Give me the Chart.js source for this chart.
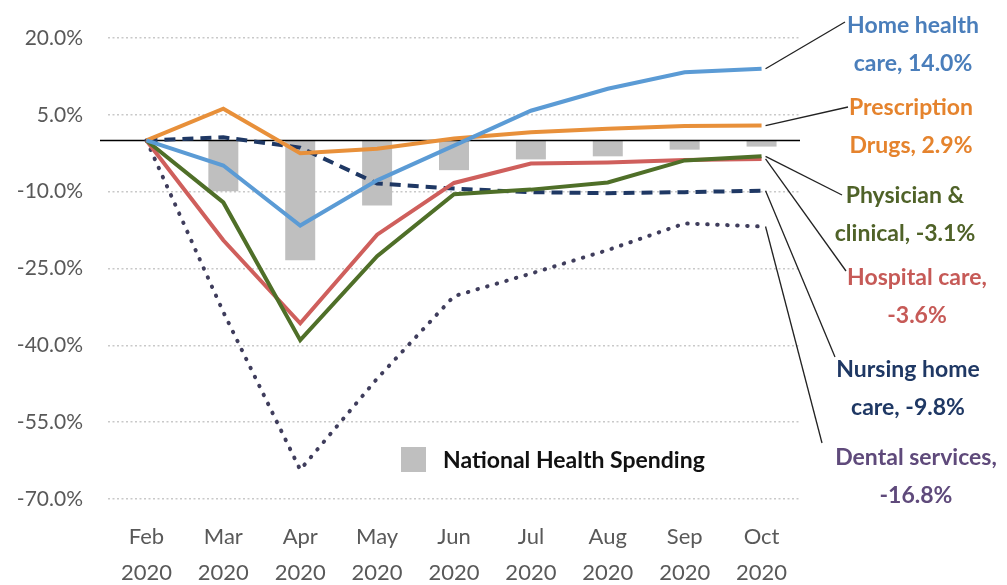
<!DOCTYPE html>
<html>
<head>
<meta charset="utf-8">
<script src="https://cdn.jsdelivr.net/npm/chart.js@4/dist/chart.umd.min.js"></script>
<style>
  html, body { margin: 0; padding: 0; background: #fff; }
  #wrap { width: 1007px; height: 585px; position: relative; }
</style>
</head>
<body>
<div id="wrap"><canvas id="chart"></canvas></div>
<script>
// ─── Data ─────────────────────────────────────────────────────────────────────
const months = ["Feb", "Mar", "Apr", "May", "Jun", "Jul", "Aug", "Sep", "Oct"];
const year   = "2020";
const yTicks = [20, 5, -10, -25, -40, -55, -70];

const nationalHealth = [0, -9.9, -23.4, -12.7, -5.8, -3.7, -3.1, -1.8, -1.2];
const homeHealth     = [0, -4.9, -16.6, -7.8, -1.0, 5.8, 10.1, 13.3, 14.0];
const prescription   = [0, 6.2, -2.5, -1.6, 0.4, 1.6, 2.3, 2.8, 2.9];
const physician      = [0, -12.1, -39.0, -22.6, -10.5, -9.6, -8.2, -3.9, -3.1];
const hospital       = [0, -19.5, -35.7, -18.4, -8.3, -4.5, -4.3, -3.8, -3.6];
const nursingHome    = [0, 0.6, -1.4, -8.4, -9.4, -10.1, -10.3, -10.1, -9.8];
const dental         = [0, -33.5, -64.3, -46.5, -30.4, -26.0, -21.4, -16.2, -16.8];

// end-of-line callouts (text only; anchor comes from the last data point)
const callouts = [
  { ds: 1, lines: ["Home health", "care, 14.0%"],      color: "#4a7ebb", cx: 913, base: 33,  end: [845, 22]  },
  { ds: 2, lines: ["Prescription", "Drugs, 2.9%"],     color: "#e5832d", cx: 911, base: 115, end: [848, 107] },
  { ds: 3, lines: ["Physician &", "clinical, -3.1%"],  color: "#4f6228", cx: 905, base: 203, end: [842, 195] },
  { ds: 4, lines: ["Hospital care,", "-3.6%"],         color: "#c65a57", cx: 917, base: 285, end: [846, 271] },
  { ds: 5, lines: ["Nursing home", "care, -9.8%"],     color: "#1f3864", cx: 908, base: 377, end: [835, 357] },
  { ds: 6, lines: ["Dental services,", "-16.8%"],      color: "#5f4a7b", cx: 916, base: 465, end: [822, 443] }
];

const FONT = "Lato, 'Open Sans', sans-serif";

// ─── Plugin: zero line, legend, callouts ─────────────────────────────────────
const extras = {
  id: "extras",
  afterDatasetDraw(chart, args) {
    if (args.index !== 0) return;
    // zero line sits on top of the bars, under the lines
    const { ctx, chartArea } = chart;
    const y0 = chart.scales.y.getPixelForValue(0);
    ctx.save();
    ctx.strokeStyle = "#000";
    ctx.lineWidth = 1.5;
    ctx.beginPath();
    ctx.moveTo(chartArea.left - 8, y0);
    ctx.lineTo(chartArea.right, y0);
    ctx.stroke();
    ctx.restore();
  },
  afterDraw(chart) {
    const { ctx } = chart;
    const meta0 = chart.data.datasets[0];

    // legend for the bars
    ctx.save();
    ctx.fillStyle = meta0.backgroundColor;
    ctx.fillRect(401, 447, 25, 25);
    ctx.fillStyle = "#111";
    ctx.font = "bold 23px " + FONT;
    ctx.textBaseline = "alphabetic";
    ctx.textAlign = "left";
    ctx.fillText(meta0.label, 443, 468);
    ctx.restore();

    // callouts with leader lines
    callouts.forEach(c => {
      const pts = chart.getDatasetMeta(c.ds).data;
      const p = pts[pts.length - 1];
      ctx.save();
      ctx.strokeStyle = "#222";
      ctx.lineWidth = 1.3;
      ctx.beginPath();
      ctx.moveTo(p.x + 4, p.y);
      ctx.lineTo(c.end[0], c.end[1]);
      ctx.stroke();
      ctx.fillStyle = c.color;
      ctx.font = "bold 23px " + FONT;
      ctx.textAlign = "center";
      ctx.textBaseline = "alphabetic";
      c.lines.forEach((t, i) => ctx.fillText(t, c.cx, c.base + i * 37.5));
      ctx.restore();
    });
  }
};

// ─── Chart ────────────────────────────────────────────────────────────────────
function lineSet(label, data, color, extra) {
  return Object.assign({
    type: "line",
    label,
    data,
    borderColor: color,
    backgroundColor: color,
    borderWidth: 4,
    pointRadius: 0,
    tension: 0,
    fill: false,
    order: 1
  }, extra || {});
}

new Chart(document.getElementById("chart"), {
  type: "bar",
  data: {
    labels: months.map(m => [m, year]),
    datasets: [
      {
        type: "bar",
        label: "National Health Spending",
        data: nationalHealth,
        backgroundColor: "#bfbfbf",
        categoryPercentage: 1,
        barPercentage: 0.39,
        order: 10
      },
      lineSet("Home health care", homeHealth, "#5b9bd5"),
      lineSet("Prescription Drugs", prescription, "#e8903a"),
      lineSet("Physician & clinical", physician, "#4f6f28"),
      lineSet("Hospital care", hospital, "#cf5f5c"),
      lineSet("Nursing home care", nursingHome, "#1f3864", { borderDash: [11, 7] }),
      lineSet("Dental services", dental, "#3f3d5c", { borderDash: [0.5, 9.5], borderCapStyle: "round", borderWidth: 4 })
    ]
  },
  options: {
    responsive: true,
    maintainAspectRatio: false,
    animation: false,
    layout: { padding: { top: 38, right: 207, bottom: 0, left: 0 } },
    plugins: {
      legend: { display: false },
      tooltip: { enabled: false }
    },
    scales: {
      x: {
        grid: { display: false },
        border: { display: false },
        ticks: {
          color: "#595959",
          font: { family: FONT, size: 22, lineHeight: "36px" },
          padding: 12,
          maxRotation: 0,
          autoSkip: false
        },
        afterFit: s => { s.height = 86; }
      },
      y: {
        min: -70,
        max: 20,
        afterBuildTicks: s => { s.ticks = yTicks.map(v => ({ value: v })); },
        grid: { color: "#c9c9c9", lineWidth: 1.5, drawTicks: false },
        border: { display: false, dash: [2, 2.5] },
        ticks: {
          color: "#595959",
          font: { family: FONT, size: 21 },
          padding: 25,
          callback: v => v.toFixed(1) + "%"
        },
        afterFit: s => { s.width = 108; }
      }
    }
  },
  plugins: [extras]
});
</script>
</body>
</html>
